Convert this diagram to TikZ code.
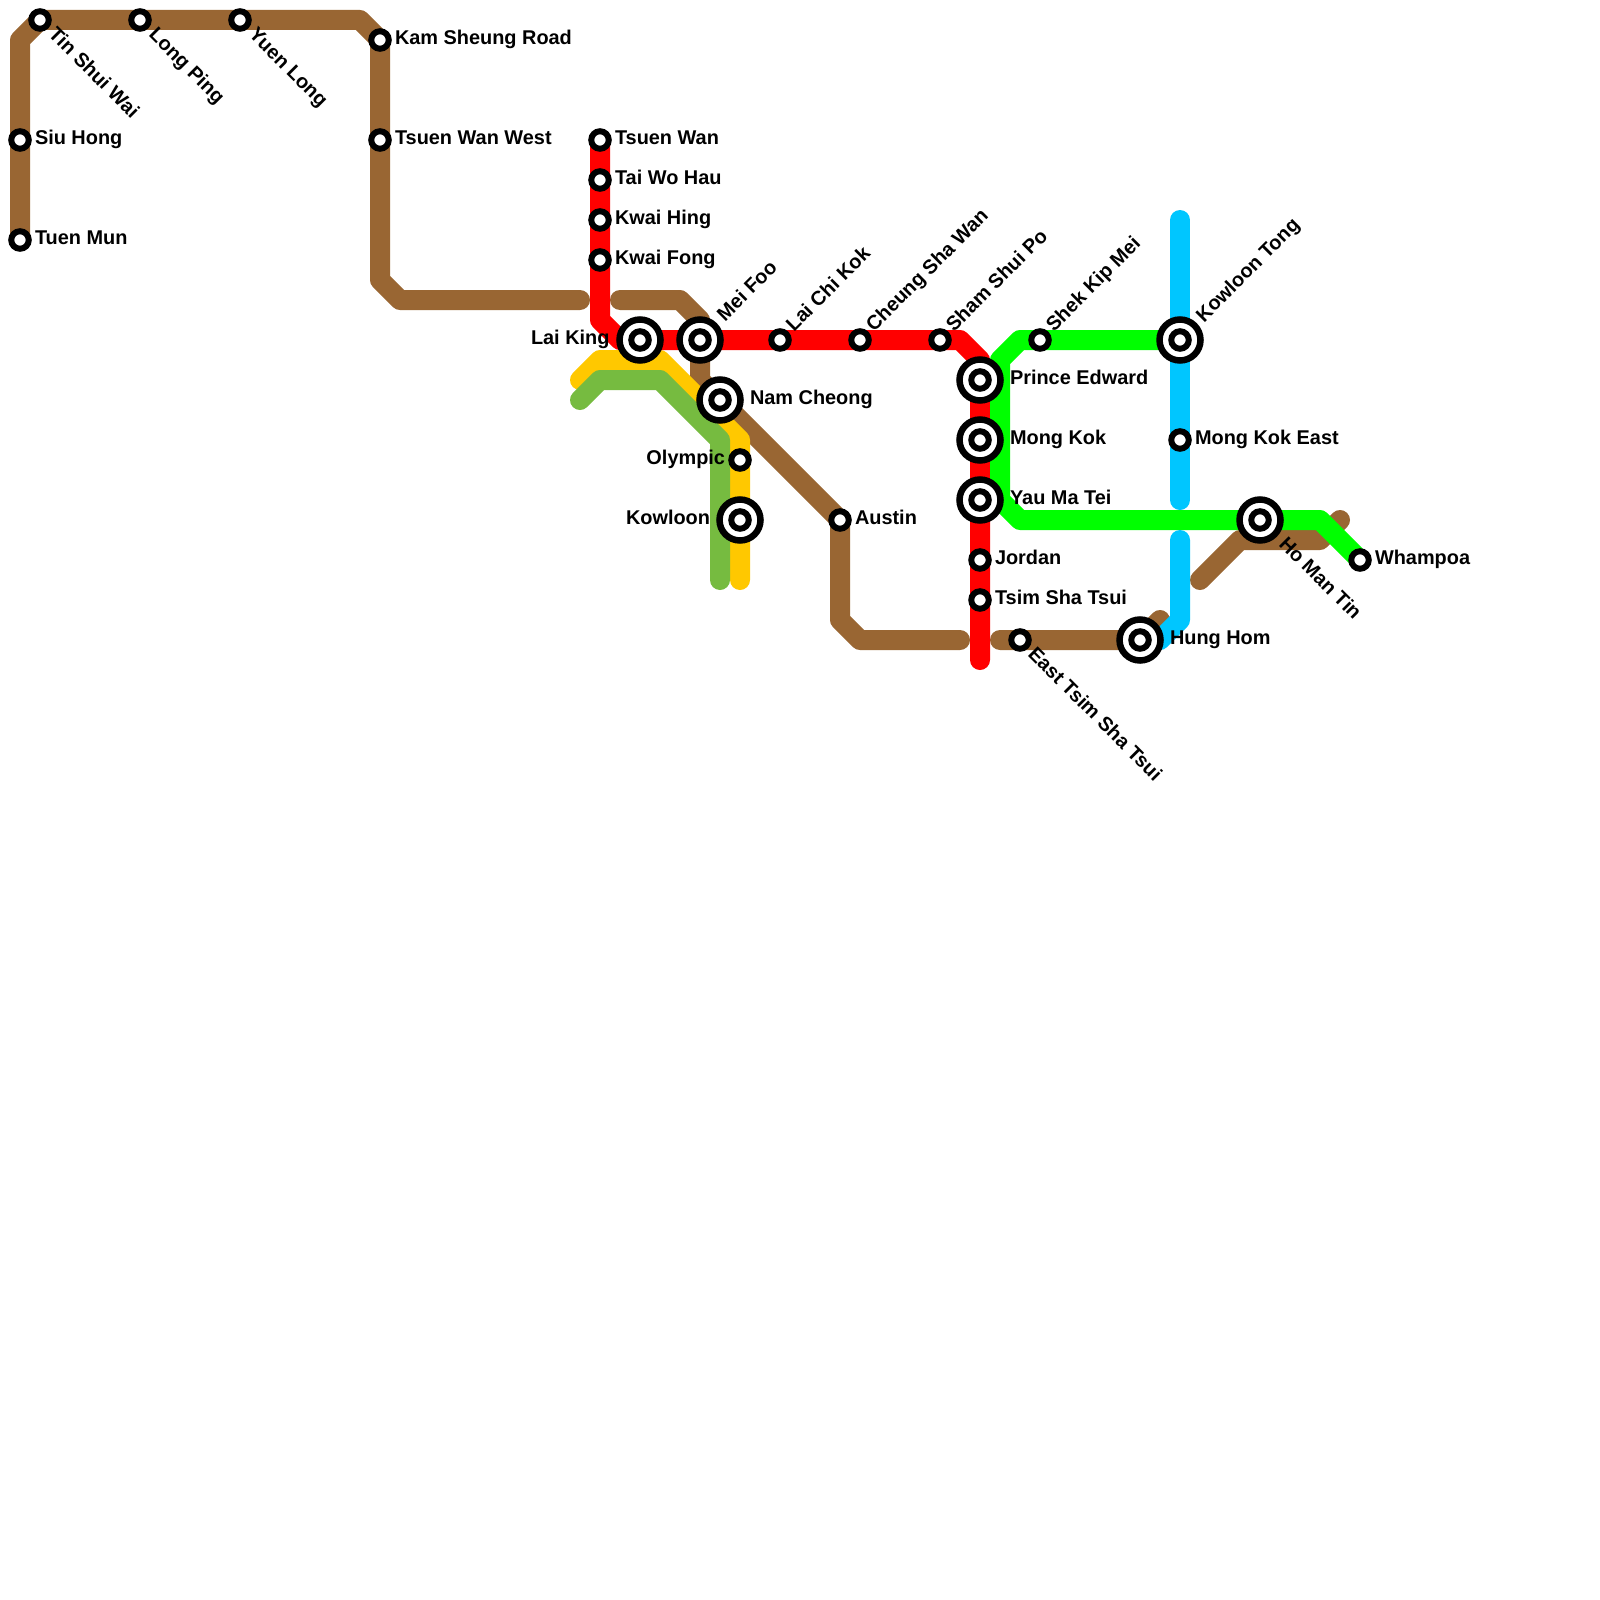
\documentclass[tikz,border=0pt]{standalone}
\usepackage{fontspec}
\setmainfont{Liberation Sans}
\usetikzlibrary{backgrounds}
\definecolor{cbrown}{HTML}{996633}
\definecolor{cred}{HTML}{FF0000}
\definecolor{cgreen}{HTML}{00FF00}
\definecolor{cblue}{HTML}{00C6FF}
\definecolor{cyellow}{HTML}{FFC800}
\definecolor{colive}{HTML}{76BB40}
\tikzset{
  stn/.style={circle,draw=black,fill=white,line width=6pt,minimum size=17.5pt,inner sep=0pt,outer sep=0pt},
  ring/.style={circle,draw=black,fill=white,line width=6.5pt,minimum size=41pt,inner sep=0pt,outer sep=0pt},
  lbl/.style={font=\fontsize{19.9}{22}\selectfont\bfseries,inner sep=0pt,outer sep=0pt,text=black,anchor=base west},
  lblr/.style={lbl,anchor=base east},
  lup/.style={lbl,rotate=45},
  ldn/.style={lbl,rotate=-45},
  metro/.style={line width=20pt,line cap=round,line join=round},
}
\newcommand{\stnA}[3]{\node[stn] (#1) at (#2,#3) {};}
\newcommand{\stnB}[3]{\node[ring] (#1r) at (#2,#3) {};\node[stn] (#1) at (#2,#3) {};}
\begin{document}
\begin{tikzpicture}[x=1pt,y=-1pt]
\useasboundingbox (0,0) rectangle (1600,1600);
% stations
\stnA{siuhong}{20}{140}
\stnA{tuenmun}{20}{240}
\stnA{tinshui}{40}{20}
\stnA{longping}{140}{20}
\stnA{yuenlong}{240}{20}
\stnA{kamsheung}{380}{40}
\stnA{twwest}{380}{140}
\stnA{tsuenwan}{600}{140}
\stnA{taiwohau}{600}{180}
\stnA{kwaihing}{600}{220}
\stnA{kwaifong}{600}{260}
\stnB{laiking}{640}{340}
\stnB{meifoo}{700}{340}
\stnA{laichikok}{780}{340}
\stnA{cheungsha}{860}{340}
\stnA{shamshui}{940}{340}
\stnA{shekkip}{1040}{340}
\stnB{kowloontong}{1180}{340}
\stnB{princeed}{980}{380}
\stnB{mongkok}{980}{440}
\stnB{yaumatei}{980}{500}
\stnA{jordan}{980}{560}
\stnA{tst}{980}{600}
\stnA{easttst}{1020}{640}
\stnB{hunghom}{1140}{640}
\stnA{mkeast}{1180}{440}
\stnB{homantin}{1260}{520}
\stnA{whampoa}{1360}{560}
\stnB{namcheong}{720}{400}
\stnA{olympic}{740}{460}
\stnB{kowloon}{740}{520}
\stnA{austin}{840}{520}
% labels
\node[lbl] (l1) at (35,144.6) {Siu Hong};
\node[lbl] (l2) at (35,244.6) {Tuen Mun};
\node[lbl] (l3) at (395,44.6) {Kam Sheung Road};
\node[lbl] (l4) at (395,144.6) {Tsuen Wan West};
\node[lbl] (l5) at (615,144.6) {Tsuen Wan};
\node[lbl] (l6) at (615,184.6) {Tai Wo Hau};
\node[lbl] (l7) at (615,224.6) {Kwai Hing};
\node[lbl] (l8) at (615,264.6) {Kwai Fong};
\node[lblr] (l9) at (609.5,344.6) {Lai King};
\node[lbl] (l10) at (750,404.6) {Nam Cheong};
\node[lblr] (l11) at (725,464.6) {Olympic};
\node[lblr] (l12) at (710,524.6) {Kowloon};
\node[lbl] (l13) at (855,524.6) {Austin};
\node[lbl] (l14) at (1010,384.6) {Prince Edward};
\node[lbl] (l15) at (1010,444.6) {Mong Kok};
\node[lbl] (l16) at (1010,504.6) {Yau Ma Tei};
\node[lbl] (l17) at (995,564.6) {Jordan};
\node[lbl] (l18) at (995,604.6) {Tsim Sha Tsui};
\node[lbl] (l19) at (1170,644.6) {Hung Hom};
\node[lbl] (l20) at (1195,444.6) {Mong Kok East};
\node[lbl] (l21) at (1375,564.6) {Whampoa};
\node[ldn] (l22) at (47.5,35.5) {Tin Shui Wai};
\node[ldn] (l23) at (148,36) {Long Ping};
\node[ldn] (l24) at (248,36) {Yuen Long};
\node[ldn] (l25) at (1278,545) {Ho Man Tin};
\node[ldn] (l26) at (1027,655) {East Tsim Sha Tsui};
\node[lup] (l27) at (725,322) {Mei Foo};
\node[lup] (l28) at (794,332.5) {Lai Chi Kok};
\node[lup] (l29) at (874,332.5) {Cheung Sha Wan};
\node[lup] (l30) at (954,332.5) {Sham Shui Po};
\node[lup] (l31) at (1054,332.5) {Shek Kip Mei};
\node[lup] (l32) at (1204,323) {Kowloon Tong};
% bends and free ends
\coordinate (b1) at (20,40);
\coordinate (b2) at (360,20);
\coordinate (b3) at (380,280);
\coordinate (b4) at (400,300);
\coordinate (e1) at (580,300);
\coordinate (e2) at (620,300);
\coordinate (b5) at (680,300);
\coordinate (b6) at (700,320);
\coordinate (b7) at (700,380);
\coordinate (b8) at (840,620);
\coordinate (b9) at (860,640);
\coordinate (e3) at (960,640);
\coordinate (e4) at (1000,640);
\coordinate (e5) at (1160,620);
\coordinate (e6) at (1200,580);
\coordinate (b10) at (1240,540);
\coordinate (b11) at (1320,540);
\coordinate (e7) at (1340,520);
\coordinate (y1) at (580,380);
\coordinate (y2) at (600,360);
\coordinate (y3) at (660,360);
\coordinate (y4) at (740,440);
\coordinate (y5) at (740,580);
\coordinate (o1) at (580,400);
\coordinate (o2) at (600,380);
\coordinate (o3) at (660,380);
\coordinate (o4) at (720,440);
\coordinate (o5) at (720,580);
\coordinate (r1) at (600,320);
\coordinate (r2) at (620,340);
\coordinate (r3) at (960,340);
\coordinate (r4) at (980,360);
\coordinate (r5) at (980,660);
\coordinate (g1) at (1000,360);
\coordinate (g2) at (1020,340);
\coordinate (g3) at (1000,500);
\coordinate (g4) at (1020,520);
\coordinate (g5) at (1320,520);
\coordinate (c1) at (1180,220);
\coordinate (c2) at (1180,500);
\coordinate (c3) at (1180,540);
\coordinate (c4) at (1180,620);
\coordinate (c5) at (1160,640);
\begin{scope}[on background layer]
\draw[metro,cbrown] (tuenmun.center) -- (siuhong.center) -- (b1) -- (tinshui.center) -- (longping.center) -- (yuenlong.center) -- (b2) -- (kamsheung.center) -- (twwest.center) -- (b3) -- (b4) -- (e1);
\draw[metro,cbrown] (e2) -- (b5) -- (b6) -- (meifoo.center) -- (b7) -- (namcheong.center) -- (austin.center) -- (b8) -- (b9) -- (e3);
\draw[metro,cbrown] (e4) -- (easttst.center) -- (hunghom.center) -- (e5);
\draw[metro,cbrown] (e6) -- (b10) -- (b11) -- (e7);
\draw[metro,cyellow] (y1) -- (y2) -- (y3) -- (y4) -- (olympic.center) -- (kowloon.center) -- (y5);
\draw[metro,colive] (o1) -- (o2) -- (o3) -- (o4) -- (o5);
\draw[metro,cred] (tsuenwan.center) -- (taiwohau.center) -- (kwaihing.center) -- (kwaifong.center) -- (r1) -- (r2) -- (laiking.center) -- (meifoo.center) -- (laichikok.center) -- (cheungsha.center) -- (shamshui.center) -- (r3) -- (r4) -- (princeed.center) -- (mongkok.center) -- (yaumatei.center) -- (jordan.center) -- (tst.center) -- (r5);
\draw[metro,cgreen] (kowloontong.center) -- (shekkip.center) -- (g2) -- (g1) -- (g3) -- (g4) -- (homantin.center) -- (g5) -- (whampoa.center);
\draw[metro,cblue] (c1) -- (kowloontong.center) -- (mkeast.center) -- (c2);
\draw[metro,cblue] (c3) -- (c4) -- (c5) -- (hunghom.center);
\end{scope}
\end{tikzpicture}
\end{document}
